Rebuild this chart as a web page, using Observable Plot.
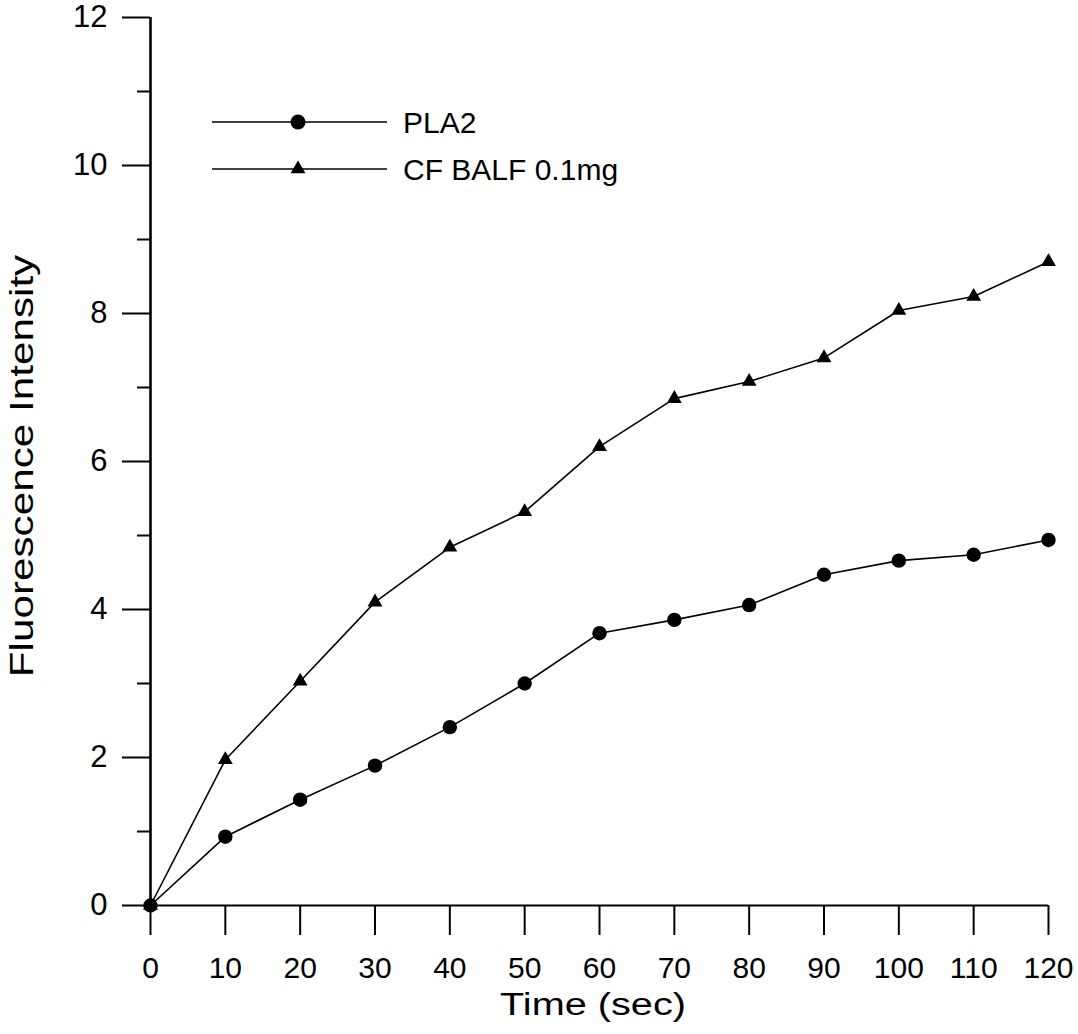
<!DOCTYPE html>
<html>
<head>
<meta charset="utf-8">
<script src="https://cdn.jsdelivr.net/npm/d3@7"></script>
<script src="https://cdn.jsdelivr.net/npm/@observablehq/plot@0.6"></script>
<style>
  html, body { margin: 0; padding: 0; background: #fff; }
  #chart { position: relative; width: 1078px; height: 1034px; }
</style>
</head>
<body>
<div id="chart"></div>
<script>
// ---- data ----
const times = [0, 10, 20, 30, 40, 50, 60, 70, 80, 90, 100, 110, 120];
const pla2 = [0, 0.93, 1.43, 1.89, 2.41, 3.0, 3.68, 3.86, 4.06, 4.47, 4.66, 4.74, 4.94];
const cfBalf = [0, 1.97, 3.03, 4.1, 4.84, 5.32, 6.2, 6.85, 7.08, 7.4, 8.04, 8.23, 8.7];
const seriesNames = ["PLA2", "CF BALF 0.1mg"];
const seriesSymbols = ["circle", "triangle"];
const xTicks = [0, 10, 20, 30, 40, 50, 60, 70, 80, 90, 100, 110, 120];
const yMajorTicks = [0, 2, 4, 6, 8, 10, 12];
const yMinorTicks = [1, 3, 5, 7, 9, 11];
const xTitle = "Time (sec)";
const yTitle = "Fluorescence Intensity";

const rows = [];
times.forEach((t, i) => {
  rows.push({time: t, value: pla2[i], series: seriesNames[0]});
  rows.push({time: t, value: cfBalf[i], series: seriesNames[1]});
});
const pRows = rows.filter(d => d.series === seriesNames[0]);
const cRows = rows.filter(d => d.series === seriesNames[1]);

const W = 1078, H = 1034;
const font = "'Liberation Sans', Arial, Helvetica, sans-serif";

const chart = Plot.plot({
  width: W,
  height: H,
  marginLeft: 150,
  marginRight: 30,
  marginTop: 17,
  marginBottom: 129,
  style: {fontFamily: font, fontSize: "30px", color: "#000", background: "#fff"},
  x: {domain: [0, 120], label: null},
  y: {domain: [0, 12], label: null},
  marks: [
    Plot.axisY(yMajorTicks, {tickSize: 28, tickPadding: 15, strokeWidth: 2, fontSize: 31, tickFormat: d => String(d), label: null}),
    Plot.axisY(yMinorTicks, {tickSize: 13, strokeWidth: 2, tickFormat: () => "", label: null}),
    Plot.axisX(xTicks, {tickSize: 30, tickPadding: 21, strokeWidth: 2, fontSize: 30, tickFormat: d => String(d), label: null}),
    Plot.ruleY([0], {stroke: "#000", strokeWidth: 2}),
    Plot.ruleX([0], {stroke: "#000", strokeWidth: 2.6}),
    Plot.line(pRows, {x: "time", y: "value", stroke: "#000", strokeWidth: 1.6}),
    Plot.line(cRows, {x: "time", y: "value", stroke: "#000", strokeWidth: 1.6}),
    Plot.dot(pRows, {x: "time", y: "value", symbol: "circle", r: 7.2, fill: "#000", stroke: "none"}),
    Plot.dot(cRows, {x: "time", y: "value", symbol: "triangle", r: 5.5, fill: "#000", stroke: "none"})
  ]
});
document.getElementById("chart").appendChild(chart);

const svg = d3.select(chart);

// axis titles (horizontally stretched like the original)
svg.append("text")
  .attr("transform", `translate(593,1015) scale(1.28,1)`)
  .attr("text-anchor", "middle")
  .attr("font-family", font)
  .attr("font-size", 31)
  .attr("fill", "#000")
  .text(xTitle);

svg.append("text")
  .attr("transform", `translate(33,466) rotate(-90) scale(1.28,1)`)
  .attr("text-anchor", "middle")
  .attr("font-family", font)
  .attr("font-size", 33)
  .attr("fill", "#000")
  .text(yTitle);

// legend
const legend = svg.append("g").attr("transform", "translate(212,122)");
seriesNames.forEach((name, i) => {
  const g = legend.append("g").attr("transform", `translate(0,${i * 47})`);
  g.append("line").attr("x1", 0).attr("x2", 175).attr("y1", 0).attr("y2", 0)
    .attr("stroke", "#000").attr("stroke-width", 1.6);
  const sym = seriesSymbols[i] === "circle" ? d3.symbolCircle : d3.symbolTriangle;
  const r = seriesSymbols[i] === "circle" ? 7.5 : 5.5;
  g.append("path").attr("d", d3.symbol(sym, Math.PI * r * r)())
    .attr("transform", "translate(86,0)").attr("fill", "#000");
  g.append("text").attr("x", 191).attr("y", 0).attr("dy", "0.35em")
    .attr("text-anchor", "start")
    .attr("font-family", font).attr("font-size", 30).attr("fill", "#000")
    .text(name);
});
</script>
</body>
</html>
